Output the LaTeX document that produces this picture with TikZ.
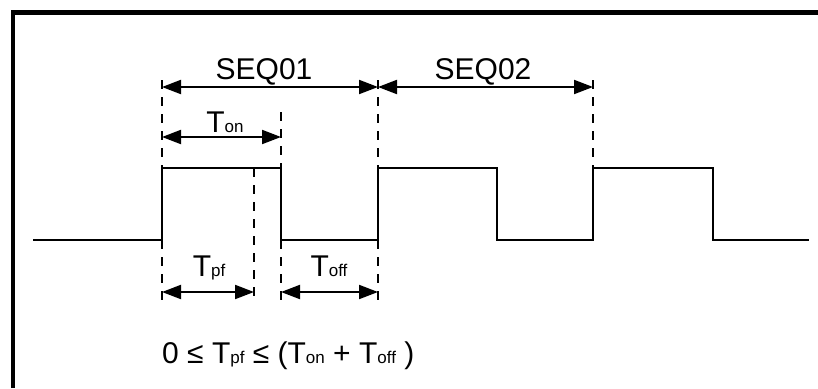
\documentclass[tikz,border=0pt]{standalone}
\usepackage{fontspec}
\setmainfont{Liberation Sans}
\usetikzlibrary{arrows.meta}
\newcommand{\bigf}{\fontsize{30}{30}\selectfont}
\newcommand{\subf}[1]{\raisebox{-0.5pt}{\fontsize{17}{17}\selectfont #1}}
\tikzset{
  frameline/.style={line width=4.5pt, line join=miter},
  signal/.style={line width=2.4pt, line join=miter},
  guide/.style={line width=2pt, dash pattern=on 9pt off 8pt},
  dimarrow/.style={line width=2pt, {Triangle[length=19pt,width=14pt]}-{Triangle[length=19pt,width=14pt]}},
  lbl/.style={inner sep=0pt, anchor=base, font=\bigf}
}
\begin{document}
\begin{tikzpicture}[x=1pt,y=-1pt]
\useasboundingbox (0,0) rectangle (818,388);
\fill[white] (0,0) rectangle (818,388);
% frame
\draw[frameline] (13,388) -- (13,12.5) -- (818,12.5);
% signal coordinates
\coordinate (s0) at (33,240);
\coordinate (r1l) at (162,240); \coordinate (r1h) at (162,168);
\coordinate (f1h) at (281,168); \coordinate (f1l) at (281,240);
\coordinate (r2l) at (378,240); \coordinate (r2h) at (378,168);
\coordinate (f2h) at (497,168); \coordinate (f2l) at (497,240);
\coordinate (r3l) at (593,240); \coordinate (r3h) at (593,168);
\coordinate (f3h) at (713,168); \coordinate (f3l) at (713,240);
\coordinate (s1) at (809,240);
\coordinate (pf) at (254,168);
\draw[signal] (s0) -- (r1l) -- (r1h) -- (f1h) -- (f1l) -- (r2l) -- (r2h) -- (f2h) -- (f2l) -- (r3l) -- (r3h) -- (f3h) -- (f3l) -- (s1);
% guide top ends
\coordinate (g1t) at (162,80);
\coordinate (g2t) at (281,112);
\coordinate (g3t) at (378,80);
\coordinate (g4t) at (593,80);
% guide bottom ends
\coordinate (g1b) at (162,300);
\coordinate (g2b) at (281,300);
\coordinate (g3b) at (378,300);
\coordinate (gpb) at (254,300);
\draw[guide] (g1t) -- (r1h);
\draw[guide] (g2t) -- (f1h);
\draw[guide] (g3t) -- (r2h);
\draw[guide] (g4t) -- (r3h);
\draw[guide] (r1l) -- (g1b);
\draw[guide] (f1l) -- (g2b);
\draw[guide] (r2l) -- (g3b);
\draw[guide] (pf) -- (gpb);
% dimension arrows
\coordinate (a1) at (162,87); \coordinate (a2) at (378,87); \coordinate (a3) at (593,87);
\coordinate (b1) at (162,137); \coordinate (b2) at (281,137);
\coordinate (c1) at (162,292); \coordinate (c2) at (254,292);
\coordinate (d1) at (281,292); \coordinate (d2) at (378,292);
\draw[dimarrow] (a1) -- (a2);
\draw[dimarrow] (a2) -- (a3);
\draw[dimarrow] (b1) -- (b2);
\draw[dimarrow] (c1) -- (c2);
\draw[dimarrow] (d1) -- (d2);
% labels
\node[lbl] (seq1) at (264,79) {SEQ01};
\node[lbl] (seq2) at (483,79) {SEQ02};
\node[lbl] (ton) at (225,132) {T\subf{on}};
\node[lbl] (tpf) at (209,276) {T\subf{pf}};
\node[lbl] (toff) at (329,276) {T\subf{off}};
\node[lbl, anchor=base west] (formula) at (162,363) {0 ≤ T\subf{pf} ≤ (T\subf{on} + T\subf{off} )};
\end{tikzpicture}
\end{document}
